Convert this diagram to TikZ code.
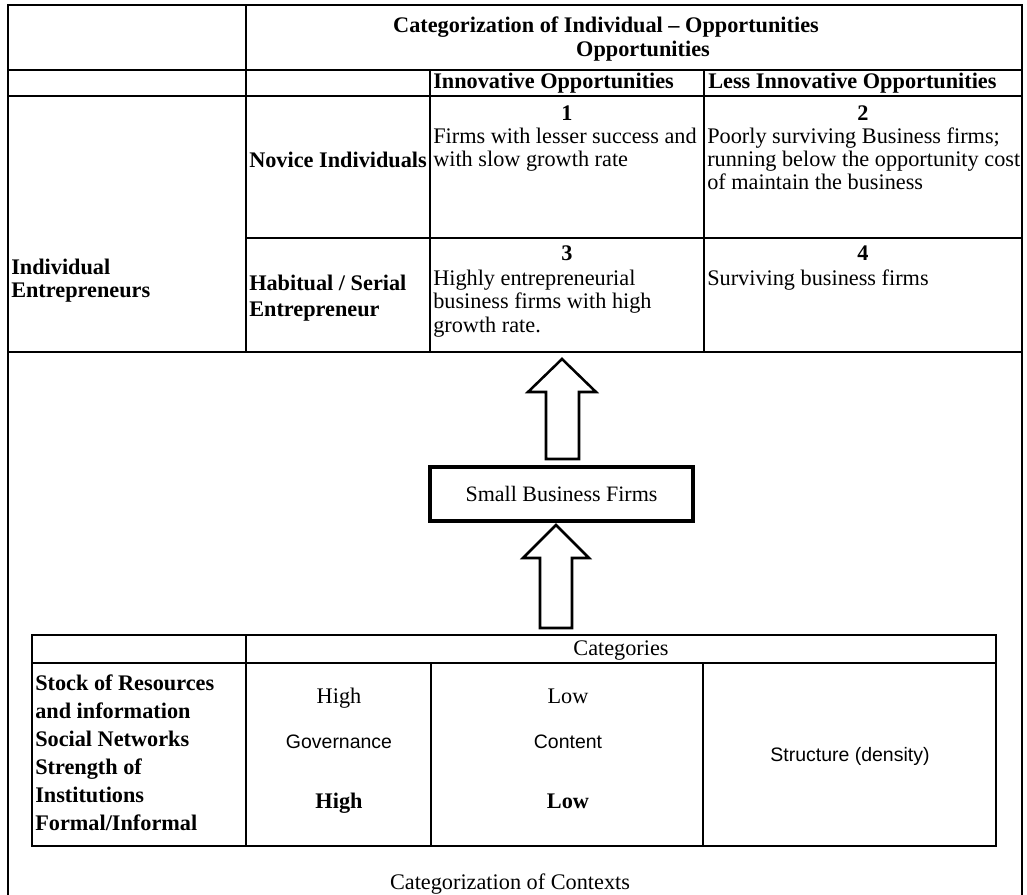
\documentclass[tikz,border=0pt]{standalone}
\usepackage{fontspec}
\setmainfont{Liberation Serif}
\setsansfont{Liberation Sans}
\usetikzlibrary{positioning}

\tikzset{
  frameline/.style={line width=2.2pt},
  gridline/.style={line width=1.5pt},
  cell/.style={inner sep=0pt, anchor=base west, align=left, font=\fontsize{16.7}{17.6}\selectfont},
  boldcell/.style={cell, font=\fontsize{16.7}{17.6}\selectfont\bfseries},
  numcell/.style={boldcell, anchor=base, align=center},
  midcell/.style={cell, anchor=base, align=center},
  sanscell/.style={cell, anchor=base, align=center, font=\fontsize{14.6}{17.6}\selectfont\sffamily},
  firmbox/.style={draw, line width=2.6pt, minimum width=197pt, minimum height=40.5pt, inner sep=0pt, font=\fontsize{16.5}{17.6}\selectfont},
  hollowarrow/.style={draw, line width=1.9pt, fill=white, line join=miter}
}

\begin{document}
\begin{tikzpicture}[x=0.75pt, y=-0.75pt]
    \useasboundingbox (0,0) rectangle (1027,895);

    % Outer frame
    \draw[frameline] (8,895) -- (8,5) -- (1022,5) -- (1022,895);

    % Upper table
    \draw[gridline] (8,70) -- (1022,70);
    \draw[gridline] (8,96) -- (1022,96);
    \draw[gridline] (246,238) -- (1022,238);
    \draw[frameline] (8,352) -- (1022,352);
    \draw[gridline] (246,5) -- (246,352);
    \draw[gridline] (430,70) -- (430,352);
    \draw[gridline] (704,70) -- (704,352);

    % (multi-line cells sit on the baseline of their last line)
    \node[boldcell, anchor=base] (title) at (606,33) {Categorization of Individual – Opportunities};
    \node[boldcell, anchor=base] (titlesub) at (643,57) {Opportunities};
    \node[boldcell] (innov) at (433,89) {Innovative Opportunities};
    \node[boldcell] (lessinnov) at (708,89) {Less Innovative Opportunities};

    \node[boldcell] (indiv) at (11,297.5) {Individual\\Entrepreneurs};
    \node[boldcell] (novice) at (249,167) {Novice Individuals};
    \node[boldcell, font=\fontsize{16.7}{19.5}\selectfont\bfseries] (habitual) at (249,316) {Habitual / Serial\\Entrepreneur};

    \node[numcell] (n1) at (567,121) {1};
    \node[numcell] (n2) at (863,121) {2};
    \node[numcell] (n3) at (567,260) {3};
    \node[numcell] (n4) at (863,260) {4};

    \node[cell] (c1) at (433,166.5) {Firms with lesser success and\\with slow growth rate};
    \node[cell] (c2) at (707,190) {Poorly surviving Business firms;\\running below the opportunity cost\\of maintain the business};
    \node[cell] (c3) at (433,332) {Highly entrepreneurial\\business firms with high\\growth rate.};
    \node[cell] (c4) at (707,285) {Surviving business firms};

    % Middle: firms and block arrows
    \node[firmbox] (firms) at (561.5,494) {Small Business Firms};
    \draw[hollowarrow] (546,459) -- (546,392) -- (528,392) -- (562,359) -- (596,392) -- (579,392) -- (579,459) -- cycle;
    \draw[hollowarrow] (540,628) -- (540,558) -- (523,558) -- (556,525) -- (589,558) -- (572,558) -- (572,628) -- cycle;

    % Lower table
    \draw[gridline] (32,635) rectangle (996,846);
    \draw[gridline] (32,663) -- (996,663);
    \draw[gridline] (246,635) -- (246,846);
    \draw[gridline] (431,663) -- (431,846);
    \draw[gridline] (703,663) -- (703,846);

    \node[midcell] (cats) at (621,655) {Categories};
    \node[boldcell, font=\fontsize{16.7}{21}\selectfont\bfseries] (rowlabels) at (35,830)
      {Stock of Resources\\and information\\Social Networks\\Strength of\\Institutions\\Formal/Informal};
    \node[midcell] (highres) at (339,703) {High};
    \node[sanscell] (gov) at (339,748) {Governance};
    \node[numcell] (highinst) at (339,808) {High};
    \node[midcell] (lowres) at (568,703) {Low};
    \node[sanscell] (content) at (568,748) {Content};
    \node[numcell] (lowinst) at (568,808) {Low};
    \node[sanscell] (struct) at (850,761) {Structure (density)};

    \node[midcell] (contexts) at (510,889) {Categorization of Contexts};
\end{tikzpicture}
\end{document}
